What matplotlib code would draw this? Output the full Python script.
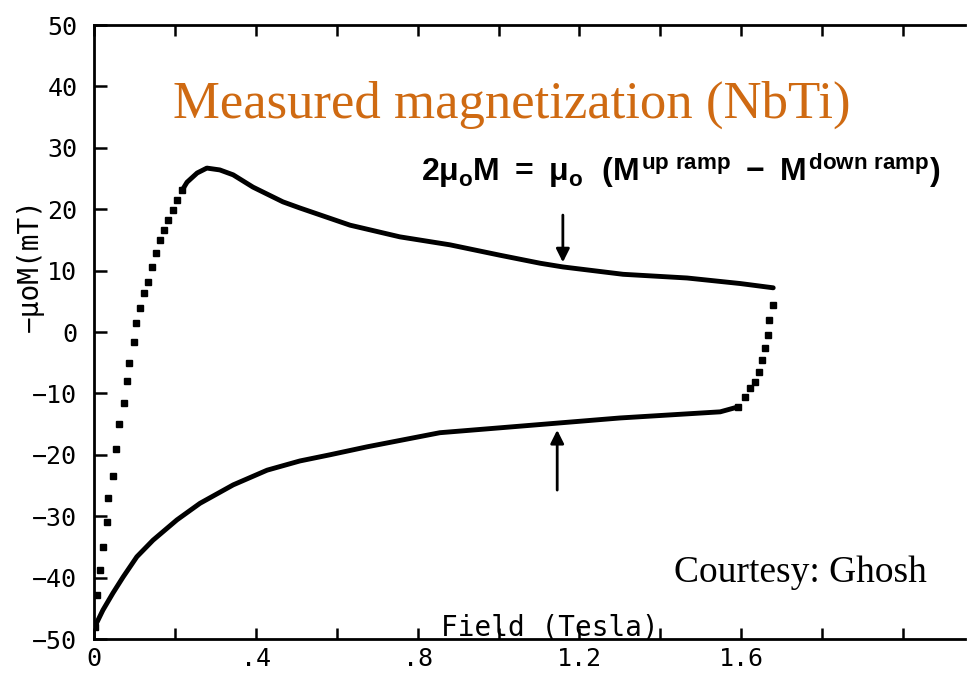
import matplotlib.pyplot as plt

plt.rcParams['mathtext.fontset'] = 'custom'
plt.rcParams['mathtext.rm'] = 'Liberation Sans:bold'
plt.rcParams['mathtext.it'] = 'Liberation Sans:bold'
plt.rcParams['mathtext.bf'] = 'Liberation Sans:bold'

# up ramp: first part, sparse measured points (Tesla, mT)
rise_x = [0.002, 0.007, 0.015, 0.022, 0.032, 0.035, 0.047, 0.054, 0.062, 0.074,
          0.082, 0.087, 0.099, 0.104, 0.114, 0.124, 0.134, 0.143, 0.153, 0.163,
          0.173, 0.183, 0.195, 0.205, 0.218]
rise_y = [-48.0, -42.8, -38.8, -35.0, -31.0, -27.0, -23.5, -19.0, -15.0, -11.6,
          -8.0, -5.0, -1.6, 1.5, 3.9, 6.3, 8.1, 10.6, 12.9, 15.0,
          16.6, 18.2, 19.9, 21.5, 23.1]

# up ramp: dense part
upper_x = [0.218, 0.230, 0.255, 0.279, 0.311, 0.344, 0.393, 0.467, 0.509, 0.633,
           0.756, 0.880, 1.004, 1.103, 1.159, 1.308, 1.466, 1.597, 1.679]
upper_y = [23.1, 24.4, 25.9, 26.7, 26.4, 25.6, 23.6, 21.2, 20.2, 17.4,
           15.5, 14.2, 12.5, 11.2, 10.6, 9.4, 8.8, 7.9, 7.2]

# down ramp: sparse points just after reversal
turn_x = [1.679, 1.669, 1.666, 1.659, 1.651, 1.644, 1.634, 1.622, 1.609, 1.592]
turn_y = [4.4, 2.0, -0.5, -2.6, -4.6, -6.5, -8.1, -9.1, -10.6, -12.2]

# down ramp: dense part
lower_x = [1.592, 1.548, 1.424, 1.300, 1.152, 1.004, 0.855, 0.675, 0.583, 0.509,
           0.428, 0.344, 0.262, 0.205, 0.146, 0.106, 0.072, 0.047, 0.022, 0.002]
lower_y = [-12.2, -13.0, -13.5, -14.0, -14.8, -15.6, -16.4, -18.7, -20.0, -21.0,
           -22.5, -24.9, -27.9, -30.6, -33.9, -36.6, -39.9, -42.5, -45.3, -48.0]

xticks = [0, 0.4, 0.8, 1.2, 1.6]
xtick_labels = ['0', '.4', '.8', '1.2', '1.6']
yticks = [50, 40, 30, 20, 10, 0, -10, -20, -30, -40, -50]

mono = 'DejaVu Sans Mono'

fig = plt.figure(figsize=(9.77, 6.97), dpi=100)
ax = fig.add_axes([0.0962, 0.0832, 0.8915, 0.8809])

ax.plot(upper_x, upper_y, color='black', lw=3.5, solid_capstyle='round')
ax.plot(lower_x, lower_y, color='black', lw=3.5, solid_capstyle='round')
ax.plot(rise_x, rise_y, 's', color='black', ms=4, linestyle='none')
ax.plot(turn_x, turn_y, 's', color='black', ms=4.5, linestyle='none')

# arrows pointing at the two branches
ax.annotate('', xy=(1.159, 10.9), xytext=(1.159, 19.5),
            arrowprops=dict(arrowstyle='-|>', color='black', lw=2, mutation_scale=20))
ax.annotate('', xy=(1.145, -15.5), xytext=(1.145, -26.2),
            arrowprops=dict(arrowstyle='-|>', color='black', lw=2, mutation_scale=20))

ax.set_xlim(0, 2.153)
ax.set_ylim(-50, 50)
ax.set_xticks(xticks)
ax.set_xticklabels(xtick_labels, fontfamily=mono, fontsize=18)
ax.set_xticks([0.2, 0.6, 1.0, 1.4, 1.8, 2.0], minor=True)
ax.set_yticks(yticks)
ax.set_yticklabels([str(v).replace('-', '\u2212') for v in yticks], fontfamily=mono, fontsize=18)
ax.tick_params(axis='x', which='both', direction='in', top=True, length=8, width=1.8, pad=6)
ax.tick_params(axis='y', direction='in', right=False, length=9, width=1.8, pad=12)
ax.spines['right'].set_visible(False)
for s in ['left', 'top', 'bottom']:
    ax.spines[s].set_linewidth(2)

fig.text(0.031, 0.62, '\u2212\u03bcoM(mT)', rotation=90, ha='center', va='center',
         fontfamily=mono, fontsize=20)
fig.text(0.563, 0.1, 'Field (Tesla)', ha='center', va='center',
         fontfamily=mono, fontsize=20)

fig.text(0.524, 0.849, 'Measured magnetization (NbTi)', ha='center', va='center',
         fontfamily='Liberation Serif', fontsize=38, color='#CF6A12')
fig.text(0.697, 0.756, r'$2\mu_o M\ =\ \mu_o\ \ (M^{up\ ramp}\ -\ M^{down\ ramp})$',
         ha='center', va='center', fontsize=23)
fig.text(0.819, 0.178, 'Courtesy: Ghosh', ha='center', va='center',
         fontfamily='Liberation Serif', fontsize=27, color='black')

fig.savefig('out.png', dpi=100)
